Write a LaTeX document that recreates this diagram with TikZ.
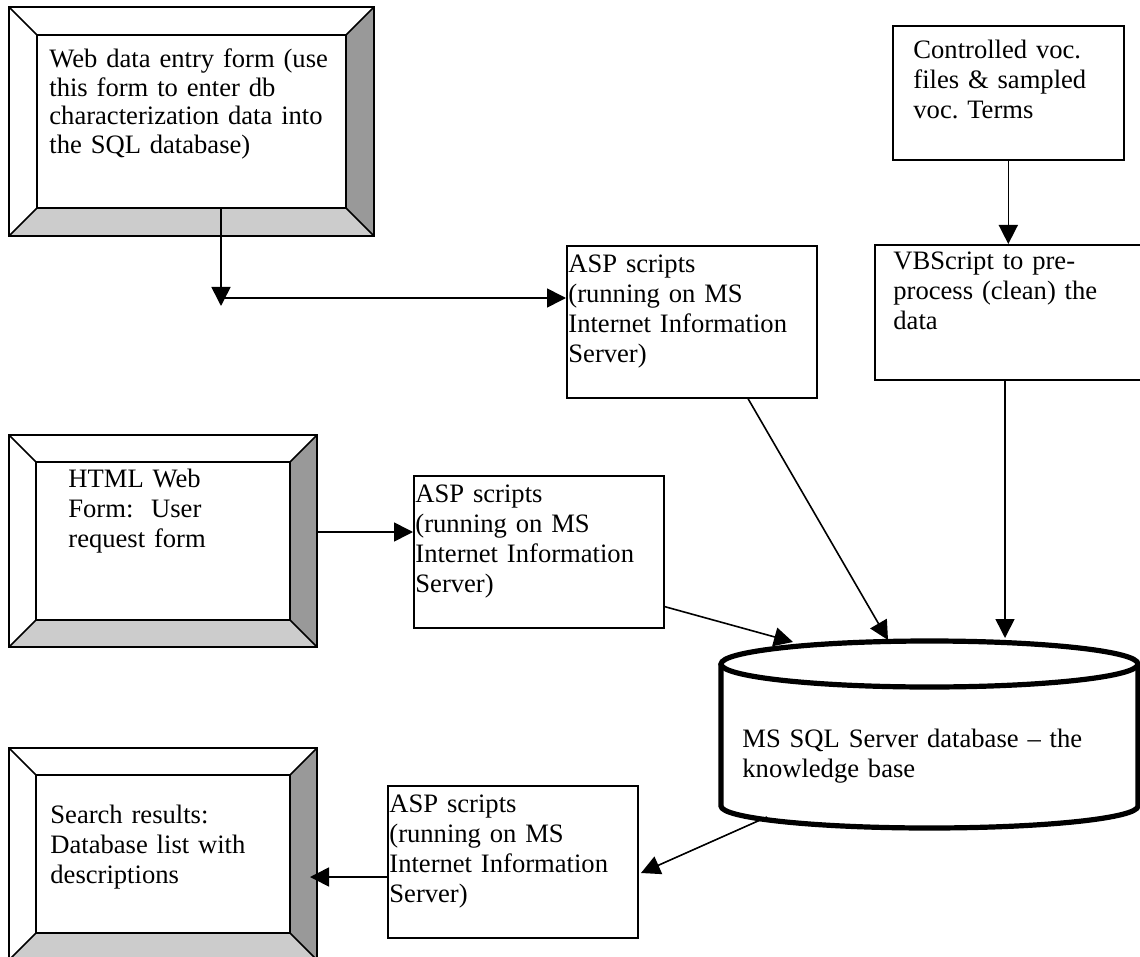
\documentclass[tikz,border=0pt]{standalone}
\usepackage{fontspec}
\setmainfont{Liberation Serif}
\usepackage{tikz}
\usetikzlibrary{arrows.meta,calc,fit}
\frenchspacing
\definecolor{Ink}{HTML}{000000}
\definecolor{BevelDark}{HTML}{999999}
\definecolor{BevelLight}{HTML}{CCCCCC}
\tikzset{
  >={Triangle[length=9.5pt,width=9.5pt]},
  box/.style={draw=Ink,line width=.8pt,inner sep=0pt,anchor=north west},
  asp/.style={box,minimum width=125pt,minimum height=76pt},
  txt/.style={anchor=base west,inner sep=0pt,text width=220pt,align=left,font=\fontsize{13.3}{15}\selectfont},
  flow/.style={->,line width=.8pt,draw=Ink},
  rim/.style={draw=Ink,line width=.8pt},
  drum/.style={draw=Ink,line width=2.6pt}
}
% bevelled web form: name, outer left, top, right, bottom, bevel
\newcommand{\webframe}[6]{%
  \coordinate (#1-nw) at (#2,#3); \coordinate (#1-ne) at (#4,#3);
  \coordinate (#1-se) at (#4,#5); \coordinate (#1-sw) at (#2,#5);
  \coordinate (#1-inw) at (#2+#6,#3+#6); \coordinate (#1-ine) at (#4-#6,#3+#6);
  \coordinate (#1-ise) at (#4-#6,#5-#6); \coordinate (#1-isw) at (#2+#6,#5-#6);
  \fill[BevelDark] (#1-ne)--(#1-se)--(#1-ise)--(#1-ine)--cycle;
  \fill[BevelLight] (#1-sw)--(#1-se)--(#1-ise)--(#1-isw)--cycle;
  \node[rim,fit=(#1-nw)(#1-se),inner sep=0pt] (#1) {};
  \node[rim,fit=(#1-inw)(#1-ise),inner sep=0pt] (#1-in) {};
  \foreach \c in {nw,ne,se,sw} \draw[rim] (#1-\c)--(#1-i\c);
}

\begin{document}
\begin{tikzpicture}[x=0.5pt,y=-0.5pt]
  \useasboundingbox (0,0) rectangle (1140,957);

  % web forms
  \webframe{entry}{9}{7}{374}{236}{28}
  \webframe{html}{9}{435}{317}{647}{27}
  \webframe{result}{9}{748}{317}{960}{27}
  \node[txt,font=\fontsize{13.3}{14.2}\selectfont] (entry-txt) at (49,68) {Web data entry form (use\\this form to enter db\\characterization data into\\the SQL database)};
  \node[txt] (html-txt) at (68,487) {HTML Web\\Form:\ \ User\\request form};
  \node[txt] (result-txt) at (50,823) {Search results:\\Database list with\\descriptions};

  % script boxes
  \node[box,minimum width=115.5pt,minimum height=67pt] (cvoc) at (892,25) {};
  \node[txt] (cvoc-txt) at (913,59) {Controlled voc.\\files \& sampled\\voc. Terms};
  \node[box,minimum width=140pt,minimum height=67.5pt] (vbs) at (874,244) {};
  \node[txt] (vbs-txt) at (893,270) {VBScript to pre-\\process (clean) the\\data};
  \node[asp] (aspA) at (566,245) {};
  \node[asp] (aspB) at (413,475) {};
  \node[asp] (aspC) at (387,785) {};
  \node[txt] (aspA-txt) at (568,272) {ASP scripts\\(running on MS\\Internet Information\\Server)};
  \node[txt] (aspB-txt) at (415,502) {ASP scripts\\(running on MS\\Internet Information\\Server)};
  \node[txt] (aspC-txt) at (389,812) {ASP scripts\\(running on MS\\Internet Information\\Server)};

  % knowledge base drum
  \coordinate (db-mid) at (929.5,664);
  \draw[drum] (721,664) -- (721,806) arc[start angle=180,end angle=0,x radius=208.5,y radius=22] -- (1138,664);
  \draw[drum] (db-mid) ellipse[x radius=208.5,y radius=23];
  \node[txt] (db) at (742,747) {MS SQL Server database -- the\\knowledge base};
  \coordinate (db-a) at (793,642); \coordinate (db-b) at (888,640);
  \coordinate (db-c) at (1005,638); \coordinate (db-out) at (767,817);

  % connectors
  \coordinate (turn) at (221,306); \coordinate (bend) at (221,298);
  \draw[flow] (entry-in.south -| turn) -- (turn);
  \draw[flow] (bend) -- (bend -| aspA.west);
  \draw[flow] (cvoc.south) -- (vbs.north -| cvoc.south);
  \draw[flow] (vbs.south -| db-c) -- (db-c);
  \draw[flow] ($(aspA.south west)+(182,0)$) -- (db-b);
  \draw[flow] ([yshift=4.5pt]html.east) -- ([yshift=4.5pt]html.east -| aspB.west);
  \draw[flow] ($(aspB.south east)+(0,-22)$) -- (db-a);
  \draw[flow] (db-out) -- (641,873);
  \coordinate (back) at (310,877);
  \draw[flow] (aspC.west |- back) -- (back);
\end{tikzpicture}
\end{document}
